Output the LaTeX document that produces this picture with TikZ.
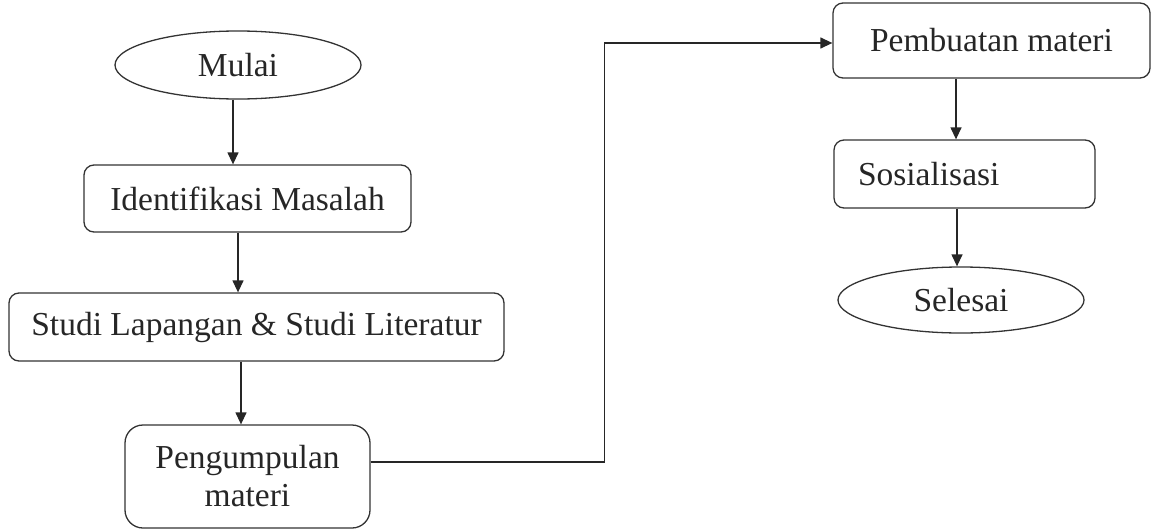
\documentclass[tikz,border=0pt]{standalone}
\usepackage{fontspec}
\setmainfont{Liberation Serif}
\usetikzlibrary{shapes,arrows.meta,positioning}

\begin{document}
\begin{tikzpicture}[x=1pt, y=1pt,
    font=\fontsize{33.5}{38}\selectfont,
    box/.style={rectangle, draw=black!80, line width=1.3pt, rounded corners=10pt, text=black!85, align=center, inner sep=0pt},
    terminal/.style={ellipse, draw=black!80, line width=1.3pt, minimum width=246pt, minimum height=68pt, text=black!85, inner sep=0pt},
    arrow/.style={line width=1.3pt, draw=black!85, -{Triangle[length=12pt,width=11pt]}}]

    \useasboundingbox (0,0) rectangle (1153,-530);

    % Nodes
    \node [terminal] (mulai) at (238,-65) {Mulai};
    \node [box, below of=mulai, node distance=133.5pt, xshift=9.5pt, minimum width=327pt, minimum height=67pt] (identifikasi) {Identifikasi Masalah};
    \node [box, below of=identifikasi, node distance=128.5pt, xshift=9pt, minimum width=495pt, minimum height=68pt] (studi) {Studi Lapangan \& Studi Literatur};
    \node [box, below of=studi, node distance=149.5pt, xshift=-9pt, minimum width=245pt, minimum height=103pt, rounded corners=18pt] (pengumpulan) {Pengumpulan\\materi};
    \node [box, minimum width=317pt, minimum height=75pt] (pembuatan) at (991.5,-40.5) {Pembuatan materi};
    \node [box, below of=pembuatan, node distance=133.5pt, xshift=-27pt, text width=213pt, inner xsep=24pt, align=left, minimum height=68pt] (sosialisasi) {Sosialisasi};
    \node [terminal, below of=sosialisasi, node distance=126pt, xshift=-3.5pt, minimum height=66pt] (selesai) {Selesai};

    % Arrows
    \draw [arrow] ([xshift=-5pt]mulai.south) -- ([xshift=-5pt]mulai.south |- identifikasi.north);
    \draw [arrow] ([xshift=-9.5pt]identifikasi.south) -- ([xshift=-9.5pt]identifikasi.south |- studi.north);
    \draw [arrow] ([xshift=-15.5pt]studi.south) -- ([xshift=-15.5pt]studi.south |- pengumpulan.north);
    \draw [arrow] ([yshift=14.5pt]pengumpulan.east) -| ([xshift=-228pt,yshift=-2.5pt]pembuatan.west) -- ([yshift=-2.5pt]pembuatan.west);
    \draw [arrow] ([xshift=-35.5pt]pembuatan.south) -- ([xshift=-35.5pt]pembuatan.south |- sosialisasi.north);
    \draw [arrow] ([xshift=-7.5pt]sosialisasi.south) -- ([xshift=-7.5pt]sosialisasi.south |- selesai.north);

\end{tikzpicture}
\end{document}
